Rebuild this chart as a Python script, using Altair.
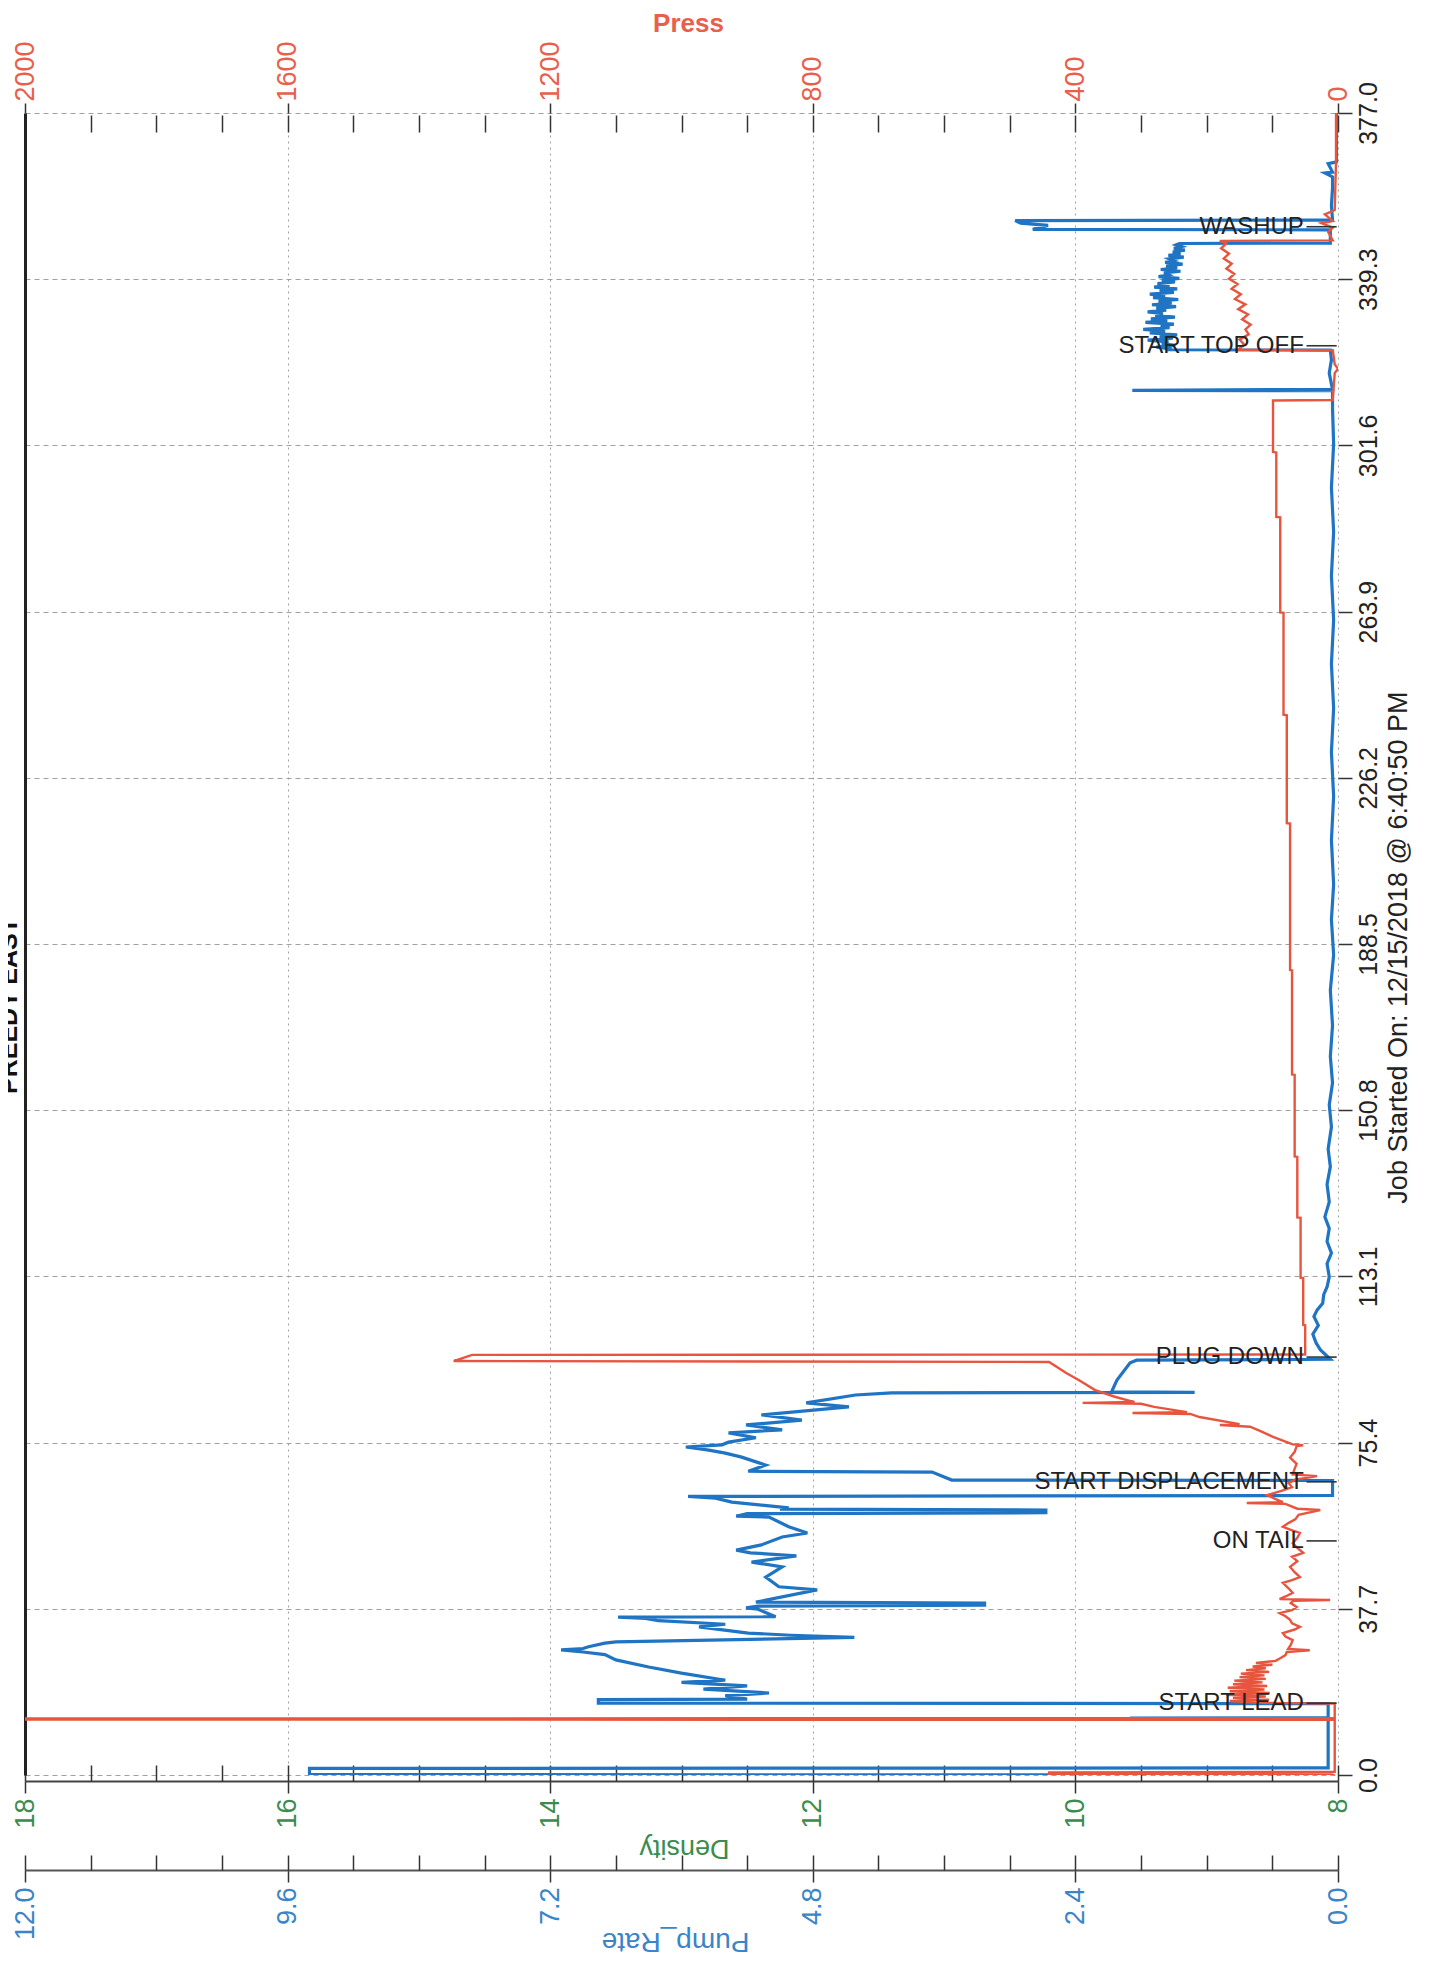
import altair as alt
import pandas as pd

# ---------------- data ----------------
RATE_T = [0.0, 0.1, 1.5, 1.6, 12.8, 12.9, 13.0, 16.2, 16.3, 17.1, 17.2,
          18.0, 18.6, 19.5, 20.2, 21.0, 21.5, 23.1, 24.5, 26.1, 27.3, 27.9, 28.4, 28.7, 29.1, 29.9, 30.2,
          31.2, 31.7, 32.2, 33.6, 34.2, 35.0, 35.5, 35.8, 35.9, 37.6, 37.9, 38.3, 38.5, 39.0, 39.2,
          42.0, 42.7, 44.9, 47.2, 48.3, 49.7, 50.4, 51.0, 52.2, 54.0, 54.9, 56.3, 58.5, 58.7, 59.3,
          59.5, 60.1, 60.3, 60.6, 61.9, 62.8, 63.2, 63.4, 66.8, 66.9, 68.7, 68.9,
          70.3, 72.1, 73.0, 73.7, 74.4, 74.9, 75.5, 76.5, 77.6, 78.3, 79.4, 80.5, 81.7, 83.5, 84.4,
          86.2, 86.7, 86.8, 86.9, 89.6, 93.5, 94.1, 94.3,
          96.4, 98.0, 100.0, 102.0, 104.0, 105.5, 107.0, 109.0, 110.7, 113.0, 116.0, 118.4, 121.0,
          124.0, 126.6, 130.0, 134.0, 138.0, 142.0, 147.0, 152.0, 157.0, 163.0, 170.0, 178.0, 186.0,
          194.0, 202.0, 212.0, 222.0, 232.0, 242.0, 252.0, 262.0, 272.0, 282.0, 292.0, 302.0, 310.0,
          314.0, 314.1, 314.3, 318.0, 321.0, 323.2, 323.3,
          323.5, 323.9, 324.3, 324.7, 325.1, 325.5, 325.9, 326.3, 326.7, 327.1, 327.5, 327.9, 328.3,
          328.7, 329.1, 329.5, 329.9, 330.3, 330.7, 331.1, 331.5, 331.9, 332.3, 332.7, 333.1, 333.5,
          333.9, 334.3, 334.7, 335.1, 335.5, 335.9, 336.3, 336.7, 337.1, 337.5, 337.9, 338.3, 338.7,
          339.1, 339.5, 339.9, 340.3, 340.7, 341.1, 341.5, 341.9, 342.3, 342.7, 343.1, 343.5, 343.9,
          344.3, 344.7, 345.1, 345.5, 345.9, 346.3, 346.7, 347.1, 347.4,
          347.5, 350.5, 350.6, 351.5, 352.0, 352.6, 352.7, 356.0, 360.0, 362.5, 363.4, 363.6, 365.5,
          366.0, 370.0, 377.0]
RATE_V = [0.05, 9.4, 9.4, 0.09, 0.09, 1.9, 0.09, 0.09, 6.76, 6.76, 5.4,
          5.6, 5.2, 5.8, 5.4, 6.0, 5.6, 6.0, 6.3, 6.6, 6.7, 6.9, 7.1, 6.9, 6.85, 6.7, 6.6,
          4.42, 5.0, 5.39, 5.84, 5.6, 6.21, 6.33, 6.58, 5.14, 5.3, 5.41, 5.3, 3.23, 3.23, 5.32,
          4.76, 5.11, 5.23, 5.08, 5.36, 4.95, 5.37, 5.5, 5.27, 5.08, 4.85, 5.02, 5.2, 5.5, 5.4,
          2.67, 2.67, 5.1, 5.02, 5.54, 5.69, 5.94, 0.05, 0.05, 3.53, 3.71, 5.39,
          5.23, 5.45, 5.6, 5.75, 5.96, 5.63, 5.57, 5.32, 5.57, 5.08, 5.41, 4.9, 5.27, 4.47, 4.86,
          4.41, 4.08, 1.31, 2.07, 2.02, 1.9, 1.84, 0.07,
          0.16, 0.20, 0.23, 0.18, 0.22, 0.19, 0.14, 0.13, 0.10, 0.08, 0.10, 0.06, 0.10,
          0.08, 0.12, 0.08, 0.10, 0.07, 0.09, 0.06, 0.08, 0.05, 0.07, 0.05, 0.07, 0.04,
          0.06, 0.04, 0.06, 0.04, 0.06, 0.04, 0.06, 0.04, 0.06, 0.04, 0.06, 0.04, 0.05,
          0.05, 1.88, 0.05, 0.08, 0.06, 0.07, 1.57,
          1.52, 1.66, 1.49, 1.61, 1.55, 1.74, 1.51, 1.63, 1.47, 1.72, 1.58, 1.78, 1.54,
          1.62, 1.50, 1.76, 1.56, 1.71, 1.49, 1.67, 1.60, 1.74, 1.57, 1.66, 1.48, 1.70,
          1.52, 1.64, 1.46, 1.69, 1.58, 1.72, 1.50, 1.63, 1.47, 1.68, 1.54, 1.65, 1.49,
          1.61, 1.45, 1.64, 1.55, 1.59, 1.44, 1.62, 1.47, 1.57, 1.42, 1.58, 1.50, 1.54,
          1.41, 1.55, 1.44, 1.51, 1.40, 1.50, 1.43, 1.48, 1.45,
          0.07, 0.07, 2.79, 2.65, 2.90, 2.95, 0.05, 0.06, 0.05, 0.05, 0.12, 0.05, 0.09,
          0.0, 0.01, 0.0]

PRESS_T = [0.0, 0.1, 0.6, 0.7, 12.5, 12.6, 12.8, 12.9, 16.2,
           16.4, 16.8, 17.1, 17.5, 17.8, 18.2, 18.6, 19.0, 19.4, 19.8, 20.2, 20.6, 21.0, 21.4, 21.8,
           22.2, 22.6, 23.0, 23.4, 23.8, 24.2, 24.6, 25.0, 25.4, 25.9, 26.5, 27.2,
           27.9, 28.3, 28.6, 29.5, 30.6, 31.4, 32.2, 33.0, 33.6, 34.4, 35.2, 36.0, 36.7, 37.4, 38.1,
           39.0, 39.5, 39.7, 39.9, 40.5, 41.3, 42.3, 43.6, 44.2, 44.9, 46.0, 47.2, 48.5, 49.5, 50.4,
           51.5, 52.6, 53.8, 54.9, 55.6, 56.3, 57.2, 58.0, 59.0, 60.1, 60.4, 61.5, 61.7, 61.9, 62.6,
           63.5, 64.5, 65.3, 66.2, 67.0, 67.8, 68.2, 69.5, 70.6, 72.0, 73.3, 74.6, 74.8, 75.0,
           76.7, 78.0, 79.0, 79.4, 79.6, 81.2, 81.9, 82.1, 82.3, 83.5, 84.2, 84.4, 84.6, 85.8,
           87.3, 89.6, 91.2, 93.7, 93.9, 95.3, 95.4,
           102.0, 102.1, 112.7, 112.8, 126.4, 126.5, 140.2, 140.3, 158.8, 158.9, 182.5, 182.6,
           215.8, 215.9, 240.4, 240.5, 263.6, 263.7, 285.3, 285.4, 300.0, 300.1, 311.8, 311.9,
           318.0, 319.0, 320.0, 323.2, 323.3, 324.5, 325.6, 326.8, 327.9, 329.0, 330.2, 331.3,
           332.5, 333.6, 334.8, 335.9, 337.1, 338.2, 339.4, 340.5, 341.7, 342.8, 344.0, 345.1,
           346.3, 347.4, 348.0, 348.1, 350.0, 351.0, 352.0, 352.5,
           354.0, 355.0, 366.0, 377.0]
PRESS_V = [5, 440, 440, 5, 5, 2100, 2100, 5, 5,
           120, 165, 105, 160, 110, 170, 104, 165, 112, 168, 108, 160, 115, 158, 110,
           150, 112, 148, 105, 140, 110, 130, 100, 125, 95, 88, 80,
           78, 43, 76, 72, 69, 80, 84, 66, 58, 70, 73, 80, 89, 70, 63,
           72, 68, 12, 89, 80, 69, 75, 84, 70, 58, 66, 73, 62, 70, 53,
           62, 69, 62, 58, 72, 84, 75, 65, 60, 27, 62, 80, 139, 84, 95,
           108, 85, 70, 75, 65, 32, 69, 66, 63, 73, 66, 63, 53, 69,
           99, 118, 134, 180, 150, 211, 225, 313, 230, 280, 300, 389, 310, 340,
           370, 395, 414, 440, 1347, 1319, 50,
           50, 53, 53, 57, 57, 62, 62, 66, 66, 70, 70, 73,
           73, 78, 78, 83, 83, 88, 88, 94, 94, 99, 99, 8,
           5, 0, 5, 8, 152, 143, 150, 136, 141, 133, 146, 137,
           152, 141, 157, 148, 162, 153, 166, 158, 170, 162, 174, 166,
           178, 170, 180, 8, 15, 8, 25, 8,
           20, 5, 3, 3]

ANN_LABELS = ["START LEAD", "ON TAIL", "START DISPLACEMENT", "PLUG DOWN", "START TOP OFF", "WASHUP"]
ANN_T = [16.3, 53.1, 66.5, 94.8, 324.2, 351.2]

TIME_TICKS = [0.0, 37.7, 75.4, 113.1, 150.8, 188.5, 226.2, 263.9, 301.6, 339.3, 377.0]
PRESS_TICKS = [0, 400, 800, 1200, 1600, 2000]
PRESS_MINOR = list(range(0, 2001, 100))
DENS_TICKS = [8, 10, 12, 14, 16, 18]
DENS_MINOR = [8 + 0.5 * i for i in range(21)]
RATE_TICKS = [0.0, 2.4, 4.8, 7.2, 9.6, 12.0]
RATE_MINOR = [round(0.6 * i, 1) for i in range(21)]

TIME_DOM = [0, 377]
PRESS_DOM = [0, 2000]
RATE_DOM = [0, 12]
DENS_DOM = [8, 18]

# ---------------- styling ----------------
W, H = 1313, 1662
FONT = "Liberation Sans, Arial, sans-serif"
RED = "#e8553f"
RED_L = "#e8604c"
BLUE = "#1f74c4"
BLUE_L = "#3a84c9"
GREEN = "#3a8c4f"
INK = "#333333"

rate_df = pd.DataFrame({"t": RATE_T, "v": RATE_V, "i": list(range(len(RATE_T)))})
press_df = pd.DataFrame({"t": PRESS_T, "v": PRESS_V, "i": list(range(len(PRESS_T)))})
ann_df = pd.DataFrame({"t": ANN_T, "label": ANN_LABELS})


def tscale():
    return alt.Scale(domain=TIME_DOM, nice=False, zero=False)


def vscale(dom):
    return alt.Scale(domain=dom, reverse=True, nice=False, zero=False)


def dom_df(dom):
    return pd.DataFrame({"v": dom, "t": TIME_DOM})


time_axis = alt.Axis(
    orient="right", values=TIME_TICKS, format=".1f",
    labelAngle=270, labelAlign="center", labelBaseline="top",
    labelFont=FONT, labelFontSize=25, labelColor="#222", labelPadding=4,
    labelFlush=False, labelOverlap=False,
    tickSize=14, tickColor=INK, tickWidth=1.5, domain=False,
    grid=True, gridColor="#a0a0a0", gridDash=[5, 4], gridWidth=1,
    title="Job Started On: 12/15/2018 @ 6:40:50 PM", titleAngle=270,
    titleFont=FONT, titleFontSize=27, titleFontWeight="normal", titleColor="#222",
    titleX=47, titleY=834, titleAlign="center", titleBaseline="top",
)

frame_axis = alt.Axis(orient="left", domain=True, domainColor="#222", domainWidth=3,
                      ticks=False, labels=False, grid=False, title=None)

press_axis = alt.Axis(
    orient="top", values=PRESS_TICKS, format="d",
    labelAngle=270, labelAlign="left", labelBaseline="middle",
    labelFont=FONT, labelFontSize=27, labelColor=RED_L, labelPadding=2,
    labelFlush=False, labelOverlap=False,
    tickSize=10, tickColor=INK, tickWidth=1.5, domain=False,
    grid=True, gridColor="#a0a0a0", gridDash=[2, 4], gridWidth=1,
    title="Press", titleAngle=0, titleColor=RED_L, titleFont=FONT, titleFontSize=26,
    titleFontWeight="bold", titleX=663, titleY=-82, titleAlign="center", titleBaseline="alphabetic",
)

press_minor_axis = alt.Axis(orient="top", offset=-19, values=PRESS_MINOR, labels=False,
                            tickSize=17, tickColor=INK, tickWidth=1.5, domain=False,
                            grid=False, title=None)

rate_axis = alt.Axis(
    orient="bottom", offset=95, values=RATE_TICKS, format=".1f",
    labelAngle=270, labelAlign="right", labelBaseline="middle",
    labelFont=FONT, labelFontSize=27, labelColor=BLUE_L, labelPadding=5,
    labelFlush=False, labelOverlap=False,
    tickSize=12, tickColor=INK, tickWidth=1.5,
    domain=True, domainColor="#555555", domainWidth=2, grid=False,
    title="Pump_Rate", titleAngle=180, titleColor=BLUE_L, titleFont=FONT, titleFontSize=28,
    titleFontWeight="normal", titleX=650, titleY=70, titleAlign="center", titleBaseline="middle",
)

rate_minor_axis = alt.Axis(orient="bottom", offset=80, values=RATE_MINOR, labels=False,
                           tickSize=15, tickColor=INK, tickWidth=1.5, domain=False,
                           grid=False, title=None)

dens_axis = alt.Axis(
    orient="bottom", offset=6, values=DENS_TICKS, format="d",
    labelAngle=270, labelAlign="right", labelBaseline="middle",
    labelFont=FONT, labelFontSize=27, labelColor=GREEN, labelPadding=5,
    labelFlush=False, labelOverlap=False,
    tickSize=12, tickColor=INK, tickWidth=1.5,
    domain=True, domainColor="#444444", domainWidth=2, grid=False,
    title="Density", titleAngle=180, titleColor=GREEN, titleFont=FONT, titleFontSize=27,
    titleFontWeight="normal", titleX=659, titleY=66, titleAlign="center", titleBaseline="middle",
)

dens_minor_axis = alt.Axis(orient="bottom", offset=-10, values=DENS_MINOR, labels=False,
                           tickSize=16, tickColor=INK, tickWidth=1.5, domain=False,
                           grid=False, title=None)

# ---------------- layers ----------------
rate_line = alt.Chart(rate_df).mark_line(color=BLUE, strokeWidth=3.2, clip=True).encode(
    x=alt.X("v:Q", scale=vscale(RATE_DOM), axis=rate_axis),
    y=alt.Y("t:Q", scale=tscale(), axis=time_axis),
    order=alt.Order("i:Q"),
)

press_line = alt.Chart(press_df).mark_line(color=RED, strokeWidth=2.4, clip=True).encode(
    x=alt.X("v:Q", scale=vscale(PRESS_DOM), axis=press_axis),
    y=alt.Y("t:Q", scale=tscale(), axis=frame_axis),
    order=alt.Order("i:Q"),
)


def axis_layer(dom, axis):
    return alt.Chart(dom_df(dom)).mark_point(opacity=0).encode(
        x=alt.X("v:Q", scale=vscale(dom), axis=axis),
        y=alt.Y("t:Q", scale=tscale(), axis=None),
    )


press_minor_l = axis_layer(PRESS_DOM, press_minor_axis)
dens_major_l = axis_layer(DENS_DOM, dens_axis)
dens_minor_l = axis_layer(DENS_DOM, dens_minor_axis)
rate_minor_l = axis_layer(RATE_DOM, rate_minor_axis)

ann_rules = alt.Chart(ann_df).mark_rule(color=INK, strokeWidth=1.6).encode(
    x=alt.XDatum(48, type="quantitative", scale=vscale(PRESS_DOM), axis=None),
    x2=alt.X2Datum(2),
    y=alt.Y("t:Q", scale=tscale(), axis=None),
)

ann_text = alt.Chart(ann_df).mark_text(
    align="right", baseline="middle", font=FONT, fontSize=24, color="#222"
).encode(
    x=alt.XDatum(52, type="quantitative", scale=vscale(PRESS_DOM), axis=None),
    y=alt.Y("t:Q", scale=tscale(), axis=None),
    text="label:N",
)

title_text = alt.Chart(pd.DataFrame({"label": ["PREEDY EAST"]})).mark_text(
    angle=270, align="center", baseline="alphabetic", font=FONT, fontSize=25,
    fontWeight="bold", color="#111"
).encode(x=alt.value(-8), y=alt.value(893), text="label:N")

chart = alt.layer(
    rate_line, press_line, press_minor_l, dens_major_l, dens_minor_l, rate_minor_l,
    ann_rules, ann_text, title_text,
).resolve_scale(x="independent", y="independent").properties(
    width=W, height=H,
    autosize=alt.AutoSizeParams(type="none"),
    padding={"left": 17, "top": 105, "right": 85, "bottom": 186},
).configure_view(strokeWidth=0)

chart.save("out.html", embed_options={"renderer": "svg", "actions": False})
